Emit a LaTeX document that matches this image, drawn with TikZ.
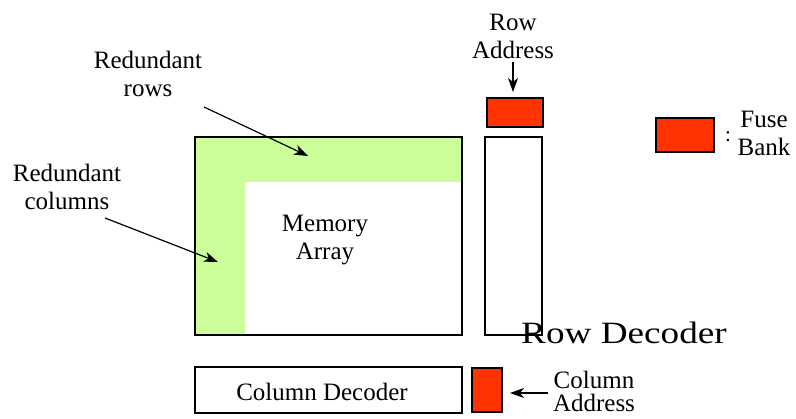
\documentclass[tikz,border=0pt]{standalone}
\usepackage{fontspec}
\setmainfont{Liberation Serif}
\usetikzlibrary{arrows.meta}
\definecolor{fusered}{HTML}{FF3300}
\definecolor{redgreen}{HTML}{CCFF99}
\begin{document}
\begin{tikzpicture}[x=1pt,y=-1pt,
  box/.style={draw=black,line width=1.3pt,inner sep=0pt,outer sep=0pt},
  fuse/.style={box,fill=fusered},
  lbl/.style={align=center,font=\fontsize{25}{28}\selectfont,inner sep=0pt},
  arr/.style={line width=1.2pt,-{Stealth[length=14pt,width=10pt,inset=4pt]}}]
\useasboundingbox (0,0) rectangle (796,419);
% memory array
\fill[redgreen] (196,138) rectangle (461,182);
\fill[redgreen] (196,138) rectangle (245,334);
\node[box,minimum width=267pt,minimum height=198pt,anchor=north west] (mem) at (195,137) {};
\node[lbl] (memtxt) at (325,240) {Memory\\Array};
% row decoder
\node[box,minimum width=57pt,minimum height=198pt,anchor=north west] (rdec) at (485,137) {};
\node[fuse,minimum width=56pt,minimum height=29pt,anchor=north west] (rfuse) at (487,98) {};
\node[lbl] (raddr) at (513,36) {Row\\Address};
\coordinate (ratail) at (513,62);
\coordinate (rahead) at (513,92);
\draw[arr] (ratail) -- (rahead);
\node[inner sep=0pt,font=\fontsize{31}{34}\selectfont,xscale=1.2] (rdtxt) at (624,333) {Row Decoder};
% legend
\node[fuse,minimum width=58pt,minimum height=34pt,anchor=north west] (lfuse) at (656,118) {};
\node[lbl,font=\fontsize{21}{24}\selectfont] (colon) at (728,137) {:};
\node[lbl] (fbank) at (764,133) {Fuse\\Bank};
% column decoder
\node[box,minimum width=267pt,minimum height=46pt,anchor=north west] (cdec) at (195,367) {};
\node[lbl] (cdtxt) at (322,392) {Column Decoder};
\node[fuse,minimum width=30pt,minimum height=44pt,anchor=north west] (cfuse) at (472,368) {};
\node[lbl,font=\fontsize{25}{23}\selectfont] (caddr) at (594,391) {Column\\Address};
\coordinate (catail) at (548,393);
\coordinate (cahead) at (510,393);
\draw[arr] (catail) -- (cahead);
% redundant labels
\node[lbl] (rrows) at (148,74) {Redundant\\rows};
\coordinate (rrowtail) at (204,107);
\coordinate (rrowtip) at (308,156);
\draw[arr] (rrowtail) -- (rrowtip);
\node[lbl] (rcols) at (67,187) {Redundant\\columns};
\coordinate (rcoltail) at (105,218);
\coordinate (rcoltip) at (218,262);
\draw[arr] (rcoltail) -- (rcoltip);
\end{tikzpicture}
\end{document}
